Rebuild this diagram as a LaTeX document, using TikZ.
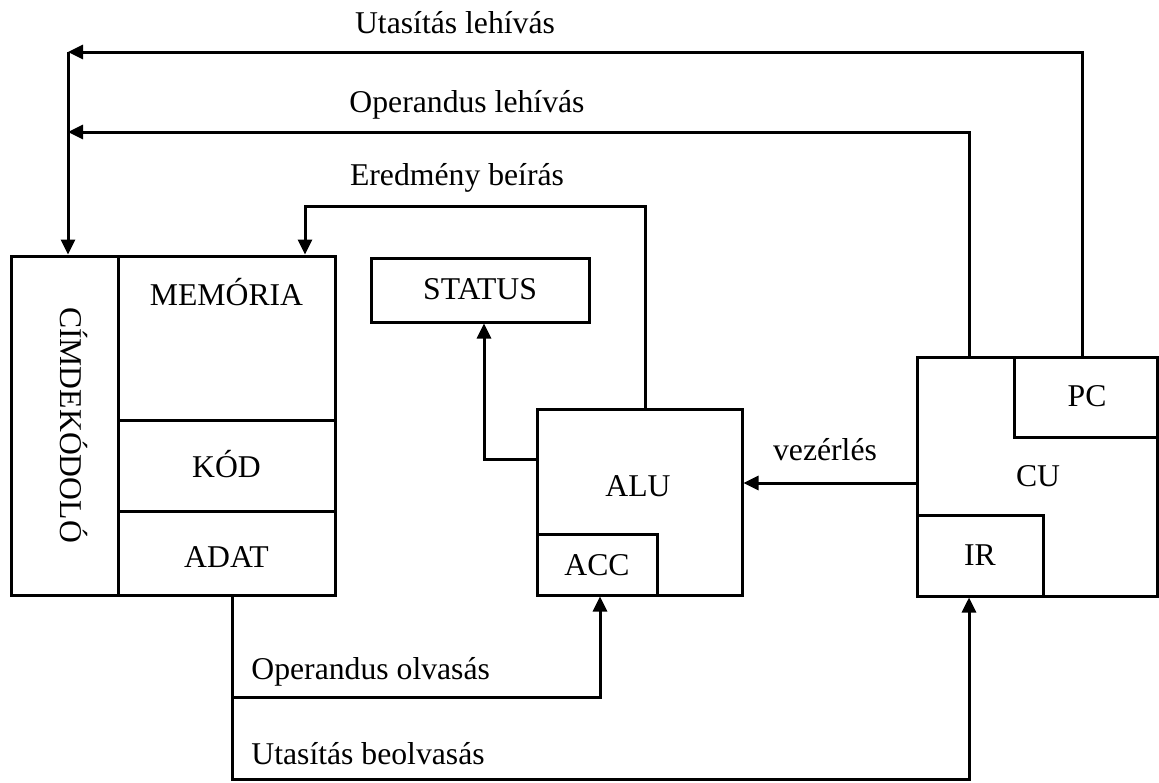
\documentclass[tikz,border=0pt]{standalone}
\usepackage{fontspec}
\setmainfont{Liberation Serif}
\usetikzlibrary{arrows.meta,fit}
\begin{document}
\begin{tikzpicture}[x=0.5pt,y=-0.5pt,
  box/.style={draw, line width=1.5pt, inner sep=0pt},
  txt/.style={font=\fontsize{15.85pt}{19pt}\selectfont, inner sep=0pt, anchor=base},
  ltxt/.style={txt, anchor=base west},
  wire/.style={line width=1.5pt},
  arr/.style={wire, -{Triangle[length=7.5pt,width=7pt]}}]
\useasboundingbox (0,0) rectangle (1159,782);

% memory side
\node[box, fit={(11,256) (118,595)}] (cim) {};
\node[box, fit={(118,256) (335,420)}] (mem) {};
\node[box, fit={(118,420) (335,511)}] (kod) {};
\node[box, fit={(118,511) (335,595)}] (adat) {};
\node[txt, rotate=-90] (cimt) at (60,425) {CÍMDEKÓDOLÓ};
\node[txt] (memt) at (226.5,305) {MEMÓRIA};
\node[txt] (kodt) at (226.5,477) {KÓD};
\node[txt] (adatt) at (226.5,567) {ADAT};

% status register and ALU
\node[box, fit={(371,258) (589,322)}] (status) {};
\node[txt] (statust) at (480,299) {STATUS};
\node[box, fit={(537,409) (742,595)}] (alu) {};
\node[box, fit={(537,534) (657,595)}] (acc) {};
\node[txt] (alut) at (638,496) {ALU};
\node[txt] (acct) at (597,575) {ACC};

% control unit
\node[box, fit={(917,357) (1157,596)}] (cu) {};
\node[box, fit={(1014,357) (1157,437)}] (pc) {};
\node[box, fit={(917,515) (1043,596)}] (ir) {};
\node[txt] (cut) at (1038,486) {CU};
\node[txt] (pct) at (1087,406) {PC};
\node[txt] (irt) at (980,565) {IR};

% routing points
\coordinate (tl) at (68,52);
\coordinate (ol) at (68,132);
\coordinate (pcx) at (1082,0);
\coordinate (opx) at (969,0);
\coordinate (erx) at (645,0);
\coordinate (ertop) at (305,206);
\coordinate (stp) at (484,459);
\coordinate (vz) at (0,483);
\coordinate (bx) at (232,0);
\coordinate (oo) at (600,697);
\coordinate (ub) at (969,779);

% connectors
\draw[arr] (pc.north -| pcx) |- (tl);
\draw[arr] (cu.north -| opx) |- (ol);
\draw[arr] (tl) -- (cim.north -| tl);
\draw[arr] (alu.north -| erx) |- (ertop) -- (mem.north -| ertop);
\draw[arr] (alu.west |- stp) -| (status.south -| stp);
\draw[arr] (cu.west |- vz) -- (alu.east |- vz);
\draw[arr] (adat.south -| bx) |- (oo) -- (acc.south -| oo);
\draw[arr] (adat.south -| bx) |- (ub) -- (ir.south -| ub);

% connector labels
\node[txt] (l1) at (455,33) {Utasítás lehívás};
\node[txt] (l2) at (467,112) {Operandus lehívás};
\node[txt] (l3) at (457,185) {Eredmény beírás};
\node[txt] (l4) at (825,460) {vezérlés};
\node[ltxt] (l5) at (251,679) {Operandus olvasás};
\node[ltxt] (l6) at (251,764) {Utasítás beolvasás};
\end{tikzpicture}
\end{document}
